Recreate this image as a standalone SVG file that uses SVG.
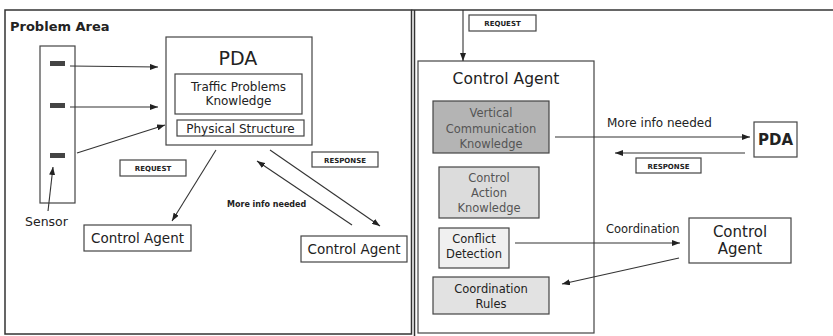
<svg xmlns="http://www.w3.org/2000/svg" width="833" height="336" viewBox="0 0 833 336">
<defs>
<style>
.t{font-family:"DejaVu Sans","Noto Sans",sans-serif;fill:#222;}
.box{fill:#fff;stroke:#444;stroke-width:1.2;}
.frame{fill:none;stroke:#333;stroke-width:1.5;}
.ln{stroke:#333;stroke-width:1.1;fill:none;marker-end:url(#ah);}
.sm{font-size:7px;font-weight:bold;}
.gt{fill:#555;}
</style>
<marker id="ah" markerWidth="8" markerHeight="6" refX="8" refY="3" orient="auto" markerUnits="userSpaceOnUse">
<path d="M0,0 L8,3 L0,6 z" fill="#222"/>
</marker>
</defs>

<g id="frames">
<rect class="frame" x="5" y="10" width="406.5" height="324"/>
<line class="frame" x1="411.5" y1="10" x2="833" y2="10"/>
<line class="frame" x1="414.5" y1="10" x2="414.5" y2="336"/>
</g>

<text class="t" x="10" y="31" font-size="13" font-weight="bold">Problem Area</text>

<g id="sensors">
<rect class="box" x="40" y="46" width="35" height="157"/>
<rect x="50" y="61" width="15" height="5" fill="#444"/>
<rect x="50" y="103" width="15" height="5" fill="#444"/>
<rect x="50" y="153" width="15" height="5" fill="#444"/>
</g>
<text class="t" x="25" y="226" font-size="12.5">Sensor</text>

<g id="pda-left">
<rect class="box" x="166" y="37" width="146" height="108"/>
<text class="t" x="238" y="65" font-size="19" text-anchor="middle">PDA</text>
<rect class="box" x="175" y="74" width="127" height="40"/>
<text class="t" x="238.5" y="91" font-size="12" text-anchor="middle">Traffic Problems</text>
<text class="t" x="238.5" y="105" font-size="12" text-anchor="middle">Knowledge</text>
<rect class="box" x="177" y="120" width="127" height="16"/>
<text class="t" x="240.5" y="133" font-size="12" text-anchor="middle">Physical Structure</text>
</g>

<g id="request-left">
<rect class="box" x="120" y="160" width="66" height="16"/>
<text class="t sm" x="153" y="171" text-anchor="middle">REQUEST</text>
</g>
<g id="response-left">
<rect class="box" x="312" y="152" width="66" height="15"/>
<text class="t sm" x="345" y="162.5" text-anchor="middle">RESPONSE</text>
</g>

<g id="ca-left1">
<rect class="box" x="84" y="225" width="107" height="26"/>
<text class="t" x="137.5" y="243" font-size="13.5" text-anchor="middle">Control Agent</text>
</g>
<g id="ca-left2">
<rect class="box" x="301" y="236" width="106" height="26"/>
<text class="t" x="354" y="254" font-size="13.5" text-anchor="middle">Control Agent</text>
</g>
<text class="t" x="227" y="207" font-size="8" font-weight="bold">More info needed</text>

<g id="request-right">
<rect class="box" x="469" y="15" width="67" height="16"/>
<text class="t sm" x="502.5" y="26" text-anchor="middle">REQUEST</text>
</g>

<g id="ca-main">
<rect class="box" x="418" y="61" width="176" height="272"/>
<text class="t" x="506" y="84" font-size="15.5" text-anchor="middle">Control Agent</text>
</g>
<g id="vck">
<rect x="433" y="101" width="116" height="52" fill="#b4b4b4" stroke="#444" stroke-width="1.2"/>
<text class="t gt" x="491" y="117" font-size="11.5" text-anchor="middle">Vertical</text>
<text class="t gt" x="491" y="133" font-size="11.5" text-anchor="middle">Communication</text>
<text class="t gt" x="491" y="148" font-size="11.5" text-anchor="middle">Knowledge</text>
</g>
<g id="cak">
<rect x="439" y="167" width="100" height="51" fill="#dcdcdc" stroke="#444" stroke-width="1.2"/>
<text class="t gt" x="489" y="182" font-size="11.5" text-anchor="middle">Control</text>
<text class="t gt" x="489" y="197" font-size="11.5" text-anchor="middle">Action</text>
<text class="t gt" x="489" y="212" font-size="11.5" text-anchor="middle">Knowledge</text>
</g>
<g id="cd">
<rect x="439" y="228" width="70" height="40" fill="#f0f0f0" stroke="#444" stroke-width="1.2"/>
<text class="t" x="474" y="243" font-size="11.5" text-anchor="middle">Conflict</text>
<text class="t" x="474" y="258" font-size="11.5" text-anchor="middle">Detection</text>
</g>
<g id="cr">
<rect x="433" y="277" width="116" height="37" fill="#e2e2e2" stroke="#444" stroke-width="1.2"/>
<text class="t" x="491" y="293" font-size="11.5" text-anchor="middle">Coordination</text>
<text class="t" x="491" y="308" font-size="11.5" text-anchor="middle">Rules</text>
</g>

<g id="pda-right">
<rect class="box" x="754" y="122" width="43" height="35"/>
<text class="t" x="775.5" y="145" font-size="15" font-weight="bold" text-anchor="middle">PDA</text>
</g>
<g id="response-right">
<rect class="box" x="636" y="158" width="65" height="15"/>
<text class="t sm" x="668.5" y="168.5" text-anchor="middle">RESPONSE</text>
</g>
<g id="ca-right">
<rect class="box" x="689" y="218" width="102" height="45"/>
<text class="t" x="740" y="237" font-size="15" text-anchor="middle">Control</text>
<text class="t" x="740" y="254" font-size="15" text-anchor="middle">Agent</text>
</g>
<text class="t" x="607" y="127" font-size="12">More info needed</text>
<text class="t" x="606" y="233" font-size="11.5">Coordination</text>

<g id="connectors">
<line class="ln" x1="70" y1="66" x2="158" y2="67"/>
<line class="ln" x1="70" y1="107" x2="158" y2="107"/>
<line class="ln" x1="77" y1="153" x2="165" y2="125"/>
<line class="ln" x1="48" y1="211" x2="53" y2="167"/>
<line class="ln" x1="216" y1="150" x2="172" y2="221"/>
<line class="ln" x1="352" y1="225" x2="257" y2="161"/>
<line class="ln" x1="270" y1="150" x2="380" y2="226"/>
<line class="ln" x1="463" y1="10" x2="463" y2="61"/>
<line class="ln" x1="555" y1="137" x2="750" y2="137"/>
<line class="ln" x1="745" y1="153" x2="615" y2="153"/>
<line class="ln" x1="515" y1="243" x2="680" y2="243"/>
<line class="ln" x1="679" y1="258" x2="562" y2="284"/>
</g>
</svg>
